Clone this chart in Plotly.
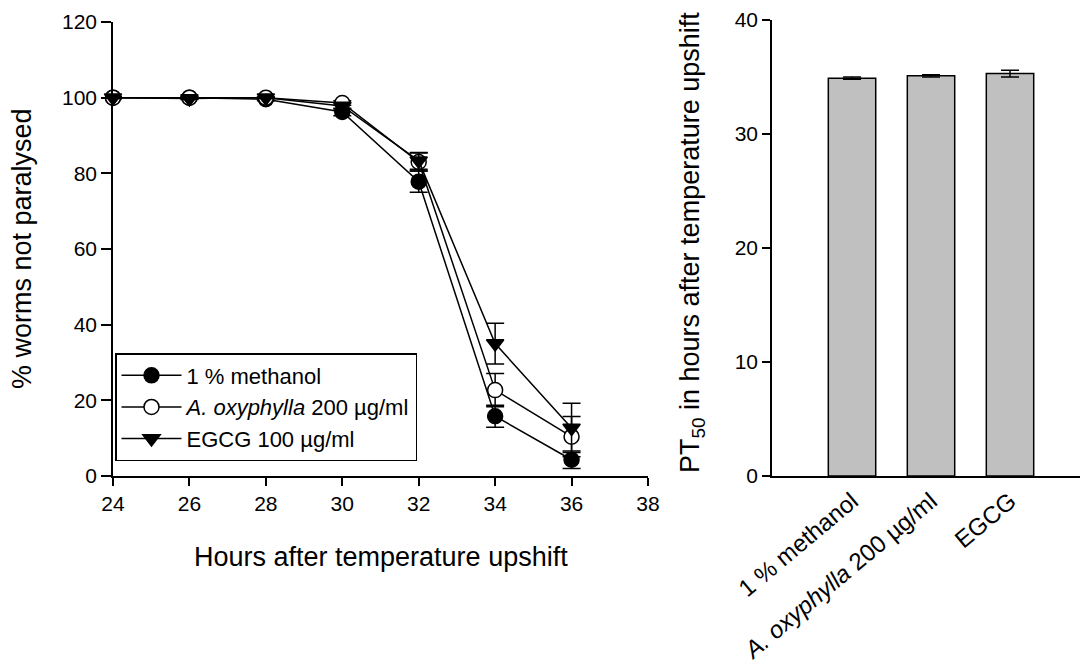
import plotly.graph_objects as go

# ---- data: line chart ----
hours = [24, 26, 28, 30, 32, 34, 36]
methanol = [100, 100, 99.6, 96.2, 77.8, 15.8, 4.3]
methanol_err = [0.3, 0.3, 0.4, 1.0, 2.8, 2.9, 2.3]
oxyphylla = [100, 100, 100, 98.6, 83.0, 22.7, 10.4]
oxyphylla_err = [0.2, 0.2, 0.2, 0.6, 2.4, 4.4, 5.3]
egcg = [100, 99.8, 100, 97.8, 83.3, 35.0, 12.7]
egcg_err = [0.2, 0.3, 0.2, 0.8, 2.2, 5.4, 6.5]
line_names = ["1 % methanol", "<i>A. oxyphylla</i> 200 µg/ml", "EGCG 100 µg/ml"]

# ---- data: bar chart ----
bar_cats = ["1 % methanol", "<i>A. oxyphylla</i> 200 µg/ml", "EGCG"]
pt50 = [34.9, 35.1, 35.3]
pt50_err = [0.1, 0.1, 0.3]

FONT = "Liberation Sans, Arial, sans-serif"
W, H = 1080, 672

def px(x):
    return x / W

def py(y):
    return 1 - y / H

fig = go.Figure()

series = [
    (methanol, methanol_err, "circle", "black"),
    (oxyphylla, oxyphylla_err, "circle", "white"),
    (egcg, egcg_err, "triangle-down", "black"),
]
for (vals, errs, sym, fill), name in zip(series, line_names):
    fig.add_trace(go.Scatter(
        x=hours, y=vals, name=name, mode="lines+markers",
        line=dict(color="black", width=1.5),
        marker=dict(symbol=sym, size=15, color=fill, line=dict(color="black", width=1.5)),
        error_y=dict(type="data", array=errs, visible=True, color="black", thickness=1.5, width=9),
        cliponaxis=False, xaxis="x", yaxis="y",
    ))

fig.add_trace(go.Bar(
    x=[0, 1, 2], y=pt50, width=0.6, showlegend=False,
    marker=dict(color="#c0c0c0", line=dict(color="black", width=1.5)),
    error_y=dict(type="data", array=pt50_err, visible=True, color="black", thickness=1.5, width=9),
    xaxis="x2", yaxis="y2",
))

axis_common = dict(
    showline=True, linecolor="black", linewidth=1.5, showgrid=False, zeroline=False,
    ticks="outside", tickcolor="black", tickwidth=1.5, automargin=False,
    tickfont=dict(family=FONT, size=21, color="black"),
)

TITLE_FONT = dict(family=FONT, size=27, color="black")

fig.update_layout(
    template="none",
    width=W, height=H, margin=dict(l=0, r=0, t=0, b=0, pad=0, autoexpand=False),
    paper_bgcolor="white", plot_bgcolor="white",
    font=dict(family=FONT, color="black"),
    xaxis=dict(domain=[px(113), px(648)], range=[24, 38], tickvals=[24, 26, 28, 30, 32, 34, 36, 38],
               ticklen=8, anchor="y", **axis_common),
    yaxis=dict(domain=[py(476), py(22)], range=[0, 120], tickvals=[0, 20, 40, 60, 80, 100, 120],
               ticklen=10, anchor="x", **axis_common),
    xaxis2=dict(domain=[px(772), 1.0], range=[-1.013, 2.886], tickvals=[0, 1, 2], ticktext=bar_cats,
                tickangle=-40, anchor="y2",
                **{**axis_common, "ticks": "",
                   "tickfont": dict(family=FONT, size=24, color="black")}),
    yaxis2=dict(domain=[py(476), py(20)], range=[0, 40], tickvals=[0, 10, 20, 30, 40],
                ticklen=8, anchor="x2", **axis_common),
    legend=dict(x=px(115), y=py(353), xanchor="left", yanchor="top",
                bordercolor="black", borderwidth=1.5, bgcolor="white",
                font=dict(family=FONT, size=22, color="black"), tracegroupgap=0,
                itemwidth=60),
    showlegend=True,
    annotations=[
        dict(text="% worms not paralysed", x=px(22), y=py(249), xref="paper", yref="paper",
             xanchor="center", yanchor="middle",
             showarrow=False, textangle=-90, font=TITLE_FONT),
        dict(text="Hours after temperature upshift", x=px(381), y=py(557), xref="paper", yref="paper",
             xanchor="center", yanchor="middle",
             showarrow=False, font=TITLE_FONT),
        dict(text="PT<sub>50</sub> in hours after temperature upshift", x=px(692), y=py(243),
             xref="paper", yref="paper", showarrow=False, textangle=-90,
             xanchor="center", yanchor="middle", font=TITLE_FONT),
    ],
)

fig.write_html("out.html")
